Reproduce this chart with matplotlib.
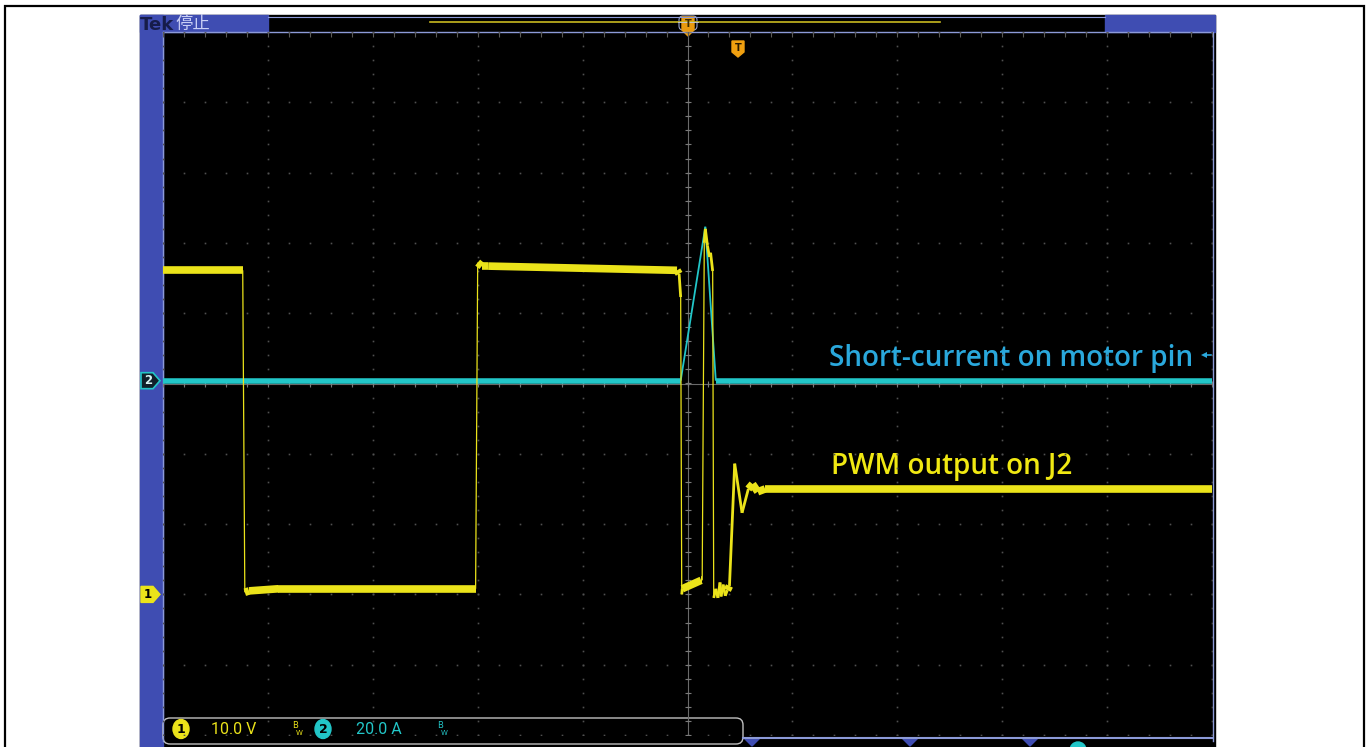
import numpy as np
import matplotlib
matplotlib.use("Agg")
import matplotlib.pyplot as plt
from matplotlib.collections import LineCollection
from matplotlib.patches import Rectangle, FancyBboxPatch, Polygon, Circle, Ellipse

# === Data ===
# time in horizontal divisions (trigger at 0), ch1 in volts, ch2 in amps
pwm_t = [-5.00, -4.24, -4.22, -4.18, -3.90, -2.02, -2.00, -1.96, -1.90, -0.10,
         -0.08, -0.065, -0.055, -0.05, 0.13, 0.14, 0.16, 0.17, 0.19, 0.21,
         0.22, 0.24, 0.25, 0.27, 0.29, 0.31, 0.32, 0.34, 0.36, 0.38,
         0.40, 0.45, 0.52, 0.58, 0.62, 0.67, 0.74, 5.00]
pwm_v = [46.1, 46.1, 0.3, 0.5, 0.8, 0.8, 47.2, 46.7, 46.7, 46.1,
         45.6, 42.3, 0.0, 0.8, 2.0, 2.0, 50.0, 52.0, 49.6, 48.0,
         48.6, 46.0, -0.5, 0.8, -0.5, 1.7, -0.3, 1.4, -0.2, 0.6,
         1.2, 18.6, 11.6, 15.0, 15.7, 14.6, 15.0, 15.0]

cur_t = [-5.00, -0.065, 0.17, 0.27, 5.00]
cur_a = [0.0, 0.0, 43.8, 0.0, 0.0]

ch1_scale, ch1_pos = 10.0, -3.0   # V/div, marker position (div)
ch2_scale, ch2_pos = 20.0, 0.04   # A/div
ch1_label = "10.0 V"
ch2_label = "20.0 A"
cur_text = "Short-current on motor pin"
pwm_text = "PWM output on J2"

YEL = "#ebe31a"
CYN = "#22c6c8"
BLUE = "#3f4db2"
EDGE = "#8c9ad8"

W, H = 1368, 747
fig = plt.figure(figsize=(W / 100, H / 100), dpi=100)
fig.patch.set_facecolor("white")

# pixel-space axes for the frame and the scope chrome
pa = fig.add_axes([0, 0, 1, 1])
pa.set_xlim(0, W)
pa.set_ylim(H, 0)
pa.axis("off")

# outer document frame
pa.plot([4.5, 4.5, 1363.5, 1363.5], [H, 6, 6, H], color="black", lw=1.6,
        solid_joinstyle="miter")

# scope body
pa.add_patch(Rectangle((140, 15), 1075, 732, color="black"))
pa.add_patch(Rectangle((140, 15), 23, 732, color=BLUE))
pa.add_patch(Rectangle((140, 15), 128, 17, color=BLUE))
pa.add_patch(Rectangle((1105, 15), 110, 17, color=BLUE))
pa.plot([268, 1105], [17, 17], color=EDGE, lw=0.8)
pa.plot([163, 1213, 1213], [32, 32, 741], color=EDGE, lw=1.0)
pa.plot([163, 163], [32, 741], color=EDGE, lw=1.0)
pa.text(140, 24.5, "Tek", color="#161c4a", fontsize=13, fontweight="bold",
        va="center", ha="left", family=["DejaVu Sans"])
pa.text(175, 24, "停止", color="#c9cff5", fontsize=12.5, va="center", ha="left",
        family=["Noto Sans CJK SC", "DejaVu Sans"])

# record overview line and trigger markers
pa.plot([430, 940], [22, 22], color="#c8b820", lw=1.2)
pa.plot([678, 698], [22, 22], color="#c0c8e8", lw=0.6)
pa.add_patch(FancyBboxPatch((679, 16), 18, 14, boxstyle="round,pad=0,rounding_size=4",
                            fill=False, ec="#9aa4cc", lw=0.8))
pa.add_patch(Polygon([[682, 17], [694, 17], [694, 30], [688, 36], [682, 30]],
                     closed=True, color="#e89a10"))
pa.text(688, 24, "T", color="#3a2a00", fontsize=7, fontweight="bold", ha="center", va="center")
pa.add_patch(Polygon([[732, 41], [744, 41], [744, 52], [738, 57], [732, 52]],
                     closed=True, color="#f0a010"))
pa.text(738, 48, "T", color="#2a1a00", fontsize=7, fontweight="bold", ha="center", va="center")

# scope graticule axes
gl, gr, gt, gb = 163, 1212, 32, 735
ax = fig.add_axes([gl / W, (H - gb) / H, (gr - gl) / W, (gb - gt) / H])
ax.set_xlim(-5, 5)
ax.set_ylim(-5, 5)
ax.set_facecolor("black")
ax.axis("off")

minor = np.arange(-5, 5.01, 0.2)
for k in range(-5, 6):
    ax.plot(np.full_like(minor, k), minor, ls="none", marker="s", ms=1.2,
            color="#505050", mew=0)
    ax.plot(minor, np.full_like(minor, k), ls="none", marker="s", ms=1.2,
            color="#505050", mew=0)
ax.axvline(0, color="#6a6a6a", lw=0.8)
ax.axhline(0, color="#6a6a6a", lw=0.8)
ax.plot(minor * 0, minor, ls="none", marker="_", ms=5, color="#7a7a7a", mew=0.8)
ax.plot(minor, minor * 0, ls="none", marker="|", ms=5, color="#7a7a7a", mew=0.8)
ax.plot(minor, minor * 0 + 4.97, ls="none", marker="|", ms=4, color="#5a5a5a", mew=0.8)


def trace(t, vals, scale, pos, color, thick, mid, thin):
    x = np.asarray(t, float)
    y = np.asarray(vals, float) / scale + pos
    segs = np.stack([np.column_stack([x[:-1], y[:-1]]),
                     np.column_stack([x[1:], y[1:]])], axis=1)
    dx = np.abs(np.diff(x)) * 105
    dy = np.abs(np.diff(y)) * 70.3
    # flat parts look thick, fast edges thin, ringing in between
    widths = np.where(dy > 2.5 * dx, np.where((dx < 3) & (dy > 40), thin, mid), thick)
    ax.add_collection(LineCollection(segs, linewidths=widths, colors=color,
                                     capstyle="butt", joinstyle="round"))


trace(cur_t, cur_a, ch2_scale, ch2_pos, CYN, 4.0, 1.3, 1.3)
trace(pwm_t, pwm_v, ch1_scale, ch1_pos, YEL, 5.5, 2.0, 0.9)

# annotations
pa.text(829, 366, cur_text, color="#2aa8dc", fontsize=20.1, fontweight="semibold",
        family=["Open Sans", "DejaVu Sans"], ha="left", va="baseline")
pa.text(831, 474, pwm_text, color="#f0e812", fontsize=20.1, fontweight="semibold",
        family=["Open Sans", "DejaVu Sans"], ha="left", va="baseline")
pa.plot([1204], [355], marker="<", ms=5, color="#2aa8dc", mew=0)
pa.plot([1206, 1211], [355, 355], color="#2aa8dc", lw=1.2)

# channel markers on the left edge
y2 = 383.5 - ch2_pos * 70.3
y1 = 383.5 - ch1_pos * 70.3
pa.add_patch(Polygon([[141, y2 - 8], [153, y2 - 8], [160, y2], [153, y2 + 8], [141, y2 + 8]],
                     closed=True, fc="#10202a", ec=CYN, lw=1.2))
pa.text(148, y2, "2", color="#d8f4f4", fontsize=8.5, fontweight="bold", ha="center", va="center")
pa.add_patch(Polygon([[141, y1 - 8], [153, y1 - 8], [160, y1], [153, y1 + 8], [141, y1 + 8]],
                     closed=True, fc=YEL, ec=YEL, lw=1))
pa.text(148, y1, "1", color="black", fontsize=8.5, fontweight="bold", ha="center", va="center")

# bottom status bar
pa.add_patch(FancyBboxPatch((163, 718), 580, 26, boxstyle="round,pad=0,rounding_size=7",
                            fc="black", ec="#c0c0c0", lw=1))
pa.add_patch(Ellipse((181, 729), 16, 19, color=YEL))
pa.text(181, 729.5, "1", color="black", fontsize=9, fontweight="bold", ha="center", va="center")
pa.text(211, 729.5, ch1_label, color=YEL, fontsize=11.5, ha="left", va="center",
        family=["Roboto", "DejaVu Sans"])
pa.text(292, 730, "B", color=YEL, fontsize=6, ha="left", va="bottom")
pa.text(296, 730, "W", color=YEL, fontsize=5, ha="left", va="top")
pa.add_patch(Ellipse((323, 729), 16, 19, color=CYN))
pa.text(323, 729.5, "2", color="black", fontsize=9, fontweight="bold", ha="center", va="center")
pa.text(356, 729.5, ch2_label, color=CYN, fontsize=11.5, ha="left", va="center",
        family=["Roboto", "DejaVu Sans"])
pa.text(437, 730, "B", color=CYN, fontsize=6, ha="left", va="bottom")
pa.text(441, 730, "W", color=CYN, fontsize=5, ha="left", va="top")

# cut-off readouts at the bottom right
pa.plot([743, 1213], [738, 738], color=EDGE, lw=1.5)
for nx in (752, 910, 1030):
    pa.add_patch(Polygon([[nx - 8, 738], [nx + 8, 738], [nx, 746]], closed=True, color=BLUE))
pa.add_patch(Circle((1078, 750), 8, color=CYN))

fig.savefig("out.png", dpi=100, facecolor=fig.get_facecolor())
